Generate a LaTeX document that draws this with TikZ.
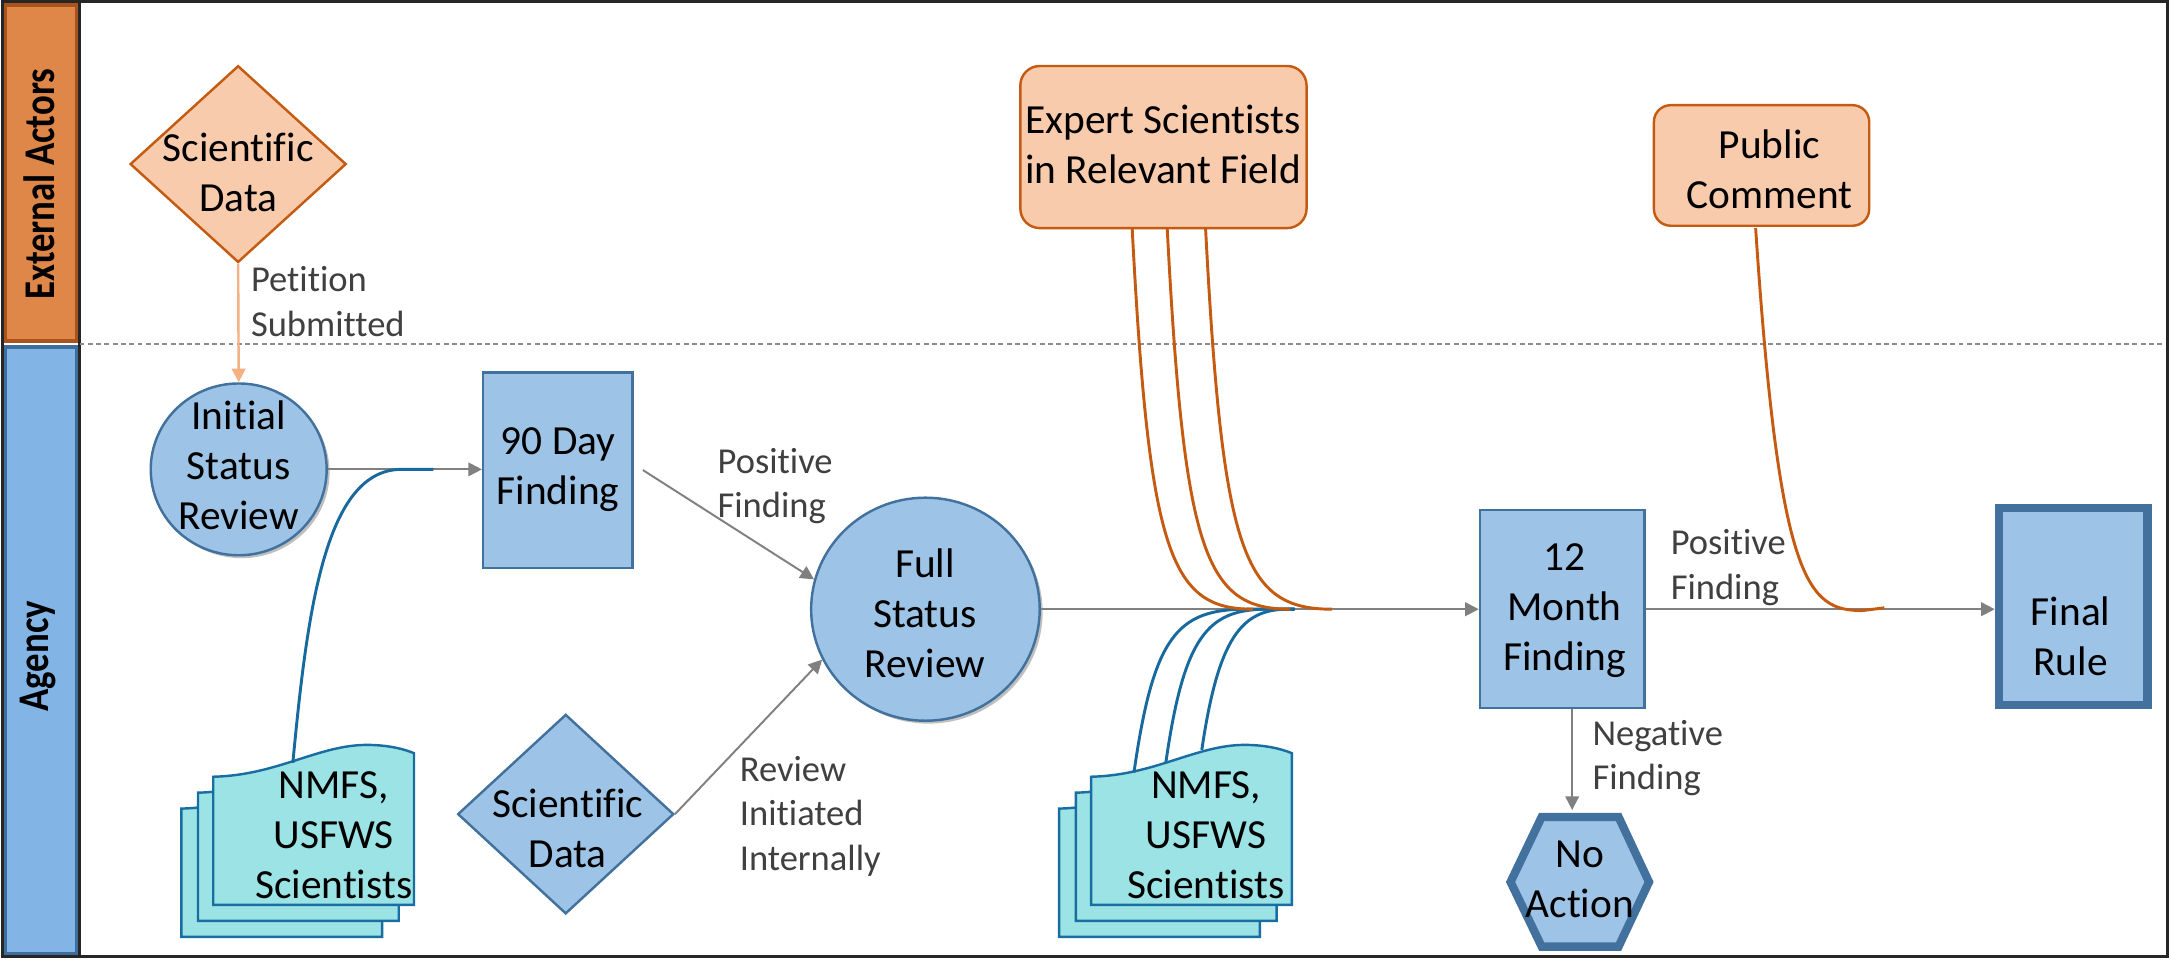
\documentclass[tikz,border=0pt]{standalone}
\usepackage{fontspec}
\setmainfont{Carlito}[Ligatures={NoCommon}]
\usetikzlibrary{shapes.geometric,arrows.meta,shadows,calc}
\definecolor{orfill}{HTML}{F8CBAD}
\definecolor{ordraw}{HTML}{C55A11}
\definecolor{blfill}{HTML}{9DC3E6}
\definecolor{bldraw}{HTML}{41719C}
\definecolor{docfill}{HTML}{9BE3E5}
\definecolor{docdraw}{HTML}{1A6DA1}
\definecolor{curveblue}{HTML}{17699E}
\definecolor{arrgray}{HTML}{808080}
\definecolor{peach}{HTML}{F4B183}
\definecolor{lblgray}{HTML}{404040}
\definecolor{laneor}{HTML}{DF8649}
\definecolor{laneord}{HTML}{A9541C}
\definecolor{lanebl}{HTML}{82B4E6}
\definecolor{lanebld}{HTML}{3E6E9E}
\definecolor{framecol}{HTML}{262626}
\definecolor{sepgray}{HTML}{8C8C8C}
\tikzset{docsheet/.pic={
  \path[fill=docfill, draw=docdraw, line width=0.5pt] (0,0) .. controls (46,-1) and (76,-23) .. (111,-23) .. controls (126,-23) and (138,-20) .. (145,-17) -- (145,92.6) -- (0,92.6) -- cycle;
}}
\begin{document}
\begin{tikzpicture}[x=0.01cm,y=-0.01cm,
  txt/.style={font=\fontsize{8.5}{10.25}\selectfont, align=center, inner sep=0pt},
  lbl/.style={font=\fontsize{7.5}{9.2}\selectfont, text=lblgray, align=left, inner sep=0pt, anchor=west},
  lanetxt/.style={rotate=90, font=\fontsize{9}{10}\selectfont\bfseries, inner sep=0pt},
  ext/.style={fill=orfill, draw=ordraw, line width=0.5pt, inner sep=0pt},
  agy/.style={fill=blfill, draw=bldraw, line width=0.5pt, inner sep=0pt},
  thickbox/.style={fill=blfill, draw=bldraw, line width=1.7pt, inner sep=0pt},
  shd/.style={drop shadow={shadow xshift=0.6pt, shadow yshift=-0.6pt, opacity=0.25, fill=black}},
  arr/.style={draw=arrgray, line width=0.4pt, -{Triangle[length=2.8pt,width=2.8pt]}},
  feed/.style={line width=0.6pt},
  lanesep/.style={draw=sepgray, line width=0.35pt, dash pattern=on 1pt off 0.7pt}
]
\useasboundingbox (0,0) rectangle (1568,694);
\fill[white] (0,0) rectangle (1568,694);
% lanes
\fill[laneord] (2,2) rectangle (57.5,247.5);
\fill[laneor] (5,5) rectangle (54.5,245);
\fill[lanebld] (2,249) rectangle (57.5,690);
\fill[lanebl] (5,252) rectangle (54.5,687.5);
\draw[framecol, line width=0.6pt] (2,1) rectangle (1565.5,690.5);
\draw[framecol, line width=0.6pt] (57.5,1) -- (57.5,690.5);
\draw[lanesep] (57.5,248.5) -- (1562,248.5);
\node[lanetxt] (laneExt) at (28.4,133) {\scalebox{0.84}[1]{External Actors}};
\node[lanetxt] (laneAg) at (27.7,474) {\scalebox{0.84}[1]{Agency}};

% shapes
\node[ext, diamond, minimum width=1.56cm, minimum height=1.42cm] (sd1) at (172,118.5) {};
\node[agy, ellipse, shd, minimum width=1.27cm, minimum height=1.24cm] (isr) at (172.4,339) {};
\node[agy, minimum width=1.078cm, minimum height=1.41cm] (d90) at (402.9,339.5) {};
\node[agy, ellipse, shd, minimum width=1.65cm, minimum height=1.61cm] (fsr) at (668.4,440) {};
\node[agy, diamond, minimum width=1.56cm, minimum height=1.44cm] (sd2) at (408.6,588) {};
\node[agy, minimum width=1.186cm, minimum height=1.43cm] (m12) at (1128.3,440) {};
\node[ext, rounded corners=0.14cm, minimum width=2.066cm, minimum height=1.17cm] (exp) at (840.3,106.2) {};
\node[ext, rounded corners=0.12cm, minimum width=1.554cm, minimum height=0.87cm] (pc) at (1272.3,119.5) {};
\node[thickbox, minimum width=1.073cm, minimum height=1.424cm] (fr) at (1497.4,438.2) {};
\draw[thickbox] (1113.5,590) -- (1169,590) -- (1191,637) -- (1169,683.7) -- (1113.5,683.7) -- (1091,637) -- cycle;
\coordinate (noactTop) at (1135.5,585);

% document stacks
\pic at (131,584) {docsheet};
\pic at (143,572.5) {docsheet};
\pic at (154,561) {docsheet};
\pic at (765,584) {docsheet};
\pic at (777,572.5) {docsheet};
\pic at (788,561) {docsheet};

% connectors
\draw[draw=peach, line width=0.5pt, -{Triangle[length=2.8pt,width=2.8pt]}] (sd1.south) -- (isr.north);
\draw[arr] (isr.east) -- (isr.east -| d90.west);
\draw[arr] ([xshift=0.066cm]d90.east) -- (fsr.165);
\draw[arr] (sd2.east) -- (fsr.206);
\draw[arr] (fsr.east) -- (fsr.east -| m12.west);
\draw[arr] (m12.east) -- (m12.east -| fr.west);
\draw[arr] (m12.south -| noactTop) -- (noactTop);

% feeding curves
\coordinate (cL) at (211.5,551);
\coordinate (jL) at (313,339);
\draw[curveblue, feed] (cL) .. controls (222,440) and (235,339) .. (290,339) -- (jL);

\coordinate (oA1) at (817.7,164.7);
\coordinate (oA2) at (843,164.7);
\coordinate (oA3) at (870.7,164.5);
\coordinate (oE1) at (905,440);
\coordinate (oE2) at (932,440);
\coordinate (oE3) at (962,440);
\coordinate (bS1) at (819,558);
\coordinate (bS2) at (842,551);
\coordinate (bS3) at (868,541.6);
\coordinate (bE) at (935,440);
\draw[curveblue, feed] (bS1) .. controls (833,460) and (850,440) .. (900,440) -- (bE);
\draw[curveblue, feed] (bS2) .. controls (855,460) and (872,440) .. (915,440) -- (bE);
\draw[curveblue, feed] (bS3) .. controls (880,460) and (897,440) .. (930,440) -- (bE);
\draw[ordraw, feed] (oA1) .. controls (830,400) and (845,440) .. (oE1);
\draw[ordraw, feed] (oA2) .. controls (855.3,400) and (870.3,440) .. (oE2);
\draw[ordraw, feed] (oA3) .. controls (883,400) and (898,440) .. (oE3);

\coordinate (pcS) at (1268,164.7);
\coordinate (pcE) at (1361,439);
\draw[ordraw, feed] (pcS) .. controls (1285,420) and (1305,441) .. (1345,441) -- (pcE);

% texts
\node[txt] (sd1t) at (172,124.5) {Scientific\\Data};
\node[txt] (isrt) at (172.4,336) {Initial\\Status\\Review};
\node[txt] (d90t) at (403,339.5) {90 Day\\Finding};
\node[txt] (fsrt) at (668,443) {Full\\Status\\Review};
\node[txt] (sd2t) at (410,598) {Scientific\\Data};
\node[txt] (m12t) at (1130,441) {12\\Month\\Finding};
\node[txt] (expt) at (840,104) {Expert Scientists\\in Relevant Field};
\node[txt] (pct) at (1278,122) {Public\\Comment};
\node[txt] (frt) at (1495.5,459.5) {Final\\Rule};
\node[txt] (noact) at (1141,635) {No\\Action};
\node[txt] (docLt) at (241,603) {NMFS,\\USFWS\\Scientists};
\node[txt] (docRt) at (871,603) {NMFS,\\USFWS\\Scientists};

\node[lbl] (petl) at (180.6,218) {Petition\\Submitted};
\node[lbl] (pf1) at (517.6,351) {Positive\\Finding};
\node[lbl] (rii) at (533.7,589.5) {Review\\Initiated\\Internally};
\node[lbl] (pf2) at (1206,410) {Positive\\Finding};
\node[lbl] (nf) at (1149.5,547.5) {Negative\\Finding};
\end{tikzpicture}
\end{document}
